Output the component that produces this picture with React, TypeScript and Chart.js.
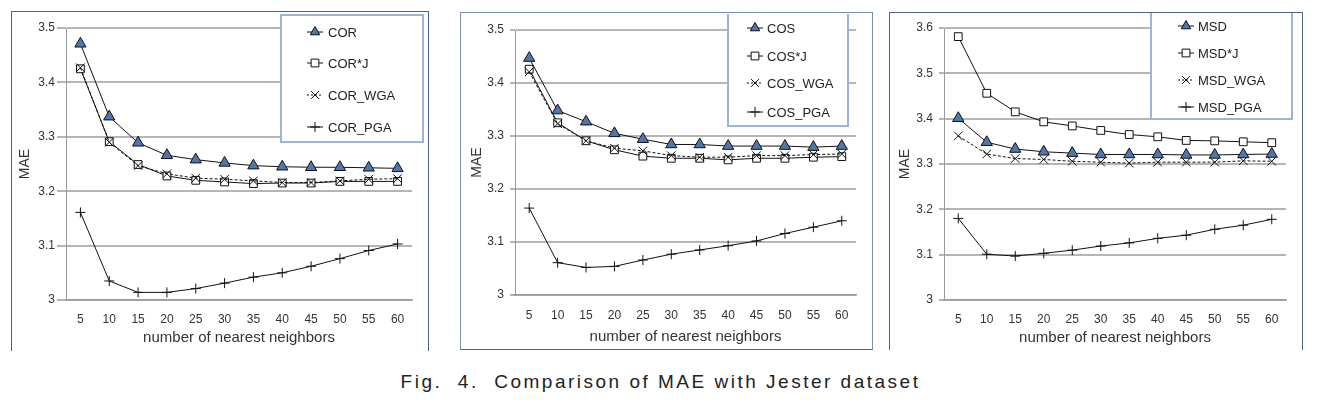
import React, { useEffect, useRef } from 'react';
import { Chart, registerables } from 'chart.js';

Chart.register(...registerables);

// ---------------- data ----------------
const neighborLabels = ['5', '10', '15', '20', '25', '30', '35', '40', '45', '50', '55', '60'];

const corNames = ['COR', 'COR*J', 'COR_WGA', 'COR_PGA'];
const corValues = [3.471, 3.337, 3.289, 3.266, 3.258, 3.252, 3.247, 3.245, 3.244, 3.244, 3.243, 3.242];
const corJValues = [3.425, 3.291, 3.249, 3.228, 3.22, 3.217, 3.214, 3.215, 3.215, 3.218, 3.218, 3.218];
const corWgaValues = [3.427, 3.29, 3.247, 3.232, 3.224, 3.222, 3.219, 3.216, 3.216, 3.219, 3.222, 3.223];
const corPgaValues = [3.161, 3.035, 3.014, 3.014, 3.021, 3.031, 3.042, 3.05, 3.062, 3.076, 3.091, 3.103];

const cosNames = ['COS', 'COS*J', 'COS_WGA', 'COS_PGA'];
const cosValues = [3.447, 3.348, 3.327, 3.305, 3.294, 3.284, 3.284, 3.281, 3.281, 3.281, 3.279, 3.281];
const cosJValues = [3.426, 3.325, 3.291, 3.274, 3.262, 3.258, 3.258, 3.255, 3.258, 3.258, 3.26, 3.261];
const cosWgaValues = [3.421, 3.323, 3.291, 3.277, 3.272, 3.263, 3.26, 3.26, 3.263, 3.263, 3.265, 3.266];
const cosPgaValues = [3.164, 3.061, 3.052, 3.054, 3.066, 3.077, 3.085, 3.093, 3.102, 3.116, 3.128, 3.14];

const msdNames = ['MSD', 'MSD*J', 'MSD_WGA', 'MSD_PGA'];
const msdValues = [3.401, 3.348, 3.333, 3.327, 3.324, 3.321, 3.321, 3.321, 3.32, 3.32, 3.321, 3.322];
const msdJValues = [3.581, 3.456, 3.415, 3.393, 3.384, 3.374, 3.365, 3.36, 3.352, 3.351, 3.349, 3.347];
const msdWgaValues = [3.362, 3.322, 3.312, 3.31, 3.306, 3.304, 3.302, 3.304, 3.304, 3.304, 3.307, 3.306];
const msdPgaValues = [3.18, 3.101, 3.097, 3.103, 3.11, 3.119, 3.126, 3.136, 3.143, 3.156, 3.165, 3.178];

const yMin = 3;
const yMaxCor = 3.5;
const yMaxCos = 3.5;
const yMaxMsd = 3.6;
const yStep = 0.1;

const xTitle = 'number of nearest neighbors';
const yTitle = 'MAE';
const caption = 'Fig.  4.  Comparison of MAE with Jester dataset';

// ---------------- styles ----------------
const FONT = '"Liberation Sans", Arial, sans-serif';
const TRI_FILL = '#4f77ad';
const kinds = ['triangle', 'rect', 'crossRot', 'cross'];

function drawMarker(ctx: CanvasRenderingContext2D, kind: string, x: number, y: number, r: number) {
  ctx.save();
  ctx.lineWidth = 1;
  ctx.strokeStyle = '#111';
  ctx.setLineDash([]);
  ctx.beginPath();
  if (kind === 'triangle') {
    const h = r * 1.5;
    const w = r * Math.sqrt(3);
    ctx.moveTo(x, y - r);
    ctx.lineTo(x + w / 2, y - r + h);
    ctx.lineTo(x - w / 2, y - r + h);
    ctx.closePath();
    ctx.fillStyle = TRI_FILL;
    ctx.fill();
    ctx.stroke();
  } else if (kind === 'rect') {
    const s = r * Math.SQRT1_2;
    ctx.rect(x - s, y - s, 2 * s, 2 * s);
    ctx.fillStyle = '#fff';
    ctx.fill();
    ctx.stroke();
  } else if (kind === 'crossRot') {
    const s = r * Math.SQRT1_2;
    ctx.moveTo(x - s, y - s);
    ctx.lineTo(x + s, y + s);
    ctx.moveTo(x - s, y + s);
    ctx.lineTo(x + s, y - s);
    ctx.stroke();
  } else {
    ctx.moveTo(x - r, y);
    ctx.lineTo(x + r, y);
    ctx.moveTo(x, y - r);
    ctx.lineTo(x, y + r);
    ctx.stroke();
  }
  ctx.restore();
}

type Box = { x: number; y: number; w: number; h: number };
type PanelCfg = {
  names: string[];
  series: number[][];
  yMax: number;
  canvas: Box;
  plot: { l: number; r: number; t: number; b: number };
  frame: { x: number; y: number; w: number; h: number; color: string; bottom: boolean; width: number };
  legend: { box: Box; rows: number[]; markerX: number; textX: number };
  yTickLen: number;
  yTickPad: number;
  yTitlePad: number;
  xTickPad: number;
  xTitlePad: number;
};

const panels: PanelCfg[] = [
  {
    names: corNames,
    series: [corValues, corJValues, corWgaValues, corPgaValues],
    yMax: yMaxCor,
    canvas: { x: 12, y: 12, w: 415, h: 340 },
    plot: { l: 66, r: 412, t: 28, b: 300 },
    frame: { x: 11, y: 11, w: 418, h: 340, color: '#4d6584', bottom: false, width: 1 },
    legend: { box: { x: 281, y: 15, w: 142, h: 127 }, rows: [32, 63, 95, 127], markerX: 315, textX: 328 },
    yTickLen: 9,
    yTickPad: 2,
    yTitlePad: 5,
    xTickPad: 12,
    xTitlePad: 5,
  },
  {
    names: cosNames,
    series: [cosValues, cosJValues, cosWgaValues, cosPgaValues],
    yMax: yMaxCos,
    canvas: { x: 462, y: 14, w: 409, h: 334 },
    plot: { l: 515, r: 856, t: 30, b: 295 },
    frame: { x: 460, y: 12, w: 413, h: 338, color: '#7b90b0', bottom: true, width: 1.5 },
    legend: { box: { x: 728, y: 12, w: 120, h: 114 }, rows: [28, 56, 83, 112], markerX: 755, textX: 767 },
    yTickLen: 5,
    yTickPad: 6,
    yTitlePad: 7,
    xTickPad: 13,
    xTitlePad: 2,
  },
  {
    names: msdNames,
    series: [msdValues, msdJValues, msdWgaValues, msdPgaValues],
    yMax: yMaxMsd,
    canvas: { x: 890, y: 13, w: 411, h: 339 },
    plot: { l: 944, r: 1286, t: 28, b: 300 },
    frame: { x: 889, y: 12, w: 414, h: 338, color: '#4d6584', bottom: false, width: 1 },
    legend: { box: { x: 1151, y: 12, w: 141, h: 107 }, rows: [26, 53, 80, 107], markerX: 1186, textX: 1198 },
    yTickLen: 5,
    yTickPad: 6,
    yTitlePad: 7,
    xTickPad: 12,
    xTitlePad: 5,
  },
];

function makeDatasets(cfg: PanelCfg) {
  return cfg.series.map((values, i) => {
    const kind = kinds[i];
    const r = kind === 'rect' ? 5.5 : kind === 'cross' ? 5 : kind === 'triangle' ? 6.5 : 6;
    return {
      label: cfg.names[i],
      data: values,
      borderColor: '#111',
      borderWidth: 1,
      borderDash: kind === 'crossRot' ? [3, 2] : [],
      tension: 0,
      fill: false,
      pointStyle: kind,
      pointRadius: r,
      pointHoverRadius: r,
      pointBorderWidth: 1,
      pointBorderColor: '#111',
      pointBackgroundColor: kind === 'triangle' ? TRI_FILL : '#fff',
      order: kind === 'triangle' ? 0 : kind === 'crossRot' ? 1 : kind === 'rect' ? 2 : 3,
    };
  });
}

function Panel({ cfg }: { cfg: PanelCfg }) {
  const ref = useRef<HTMLCanvasElement>(null);
  useEffect(() => {
    if (!ref.current) return;
    const c = cfg.canvas;
    const legendPlugin = {
      id: 'boxLegend',
      afterDraw(chart: any) {
        const ctx: CanvasRenderingContext2D = chart.ctx;
        const lg = cfg.legend;
        const bx = lg.box.x - c.x;
        const by = lg.box.y - c.y;
        ctx.save();
        ctx.fillStyle = '#fff';
        ctx.fillRect(bx, by, lg.box.w, lg.box.h);
        ctx.strokeStyle = '#9ab5d6';
        ctx.lineWidth = 2;
        ctx.strokeRect(bx, by, lg.box.w, lg.box.h);
        ctx.font = `13px ${FONT}`;
        ctx.textBaseline = 'middle';
        ctx.textAlign = 'left';
        cfg.names.forEach((name, i) => {
          const ry = lg.rows[i] - c.y;
          const mx = lg.markerX - c.x;
          ctx.save();
          ctx.strokeStyle = '#111';
          ctx.lineWidth = 1;
          ctx.setLineDash(kinds[i] === 'crossRot' ? [2, 2] : []);
          ctx.beginPath();
          ctx.moveTo(mx - 8, ry);
          ctx.lineTo(mx + 8, ry);
          ctx.stroke();
          ctx.restore();
          drawMarker(ctx, kinds[i], mx, ry, kinds[i] === 'cross' ? 5 : 5.5);
          ctx.fillStyle = '#222';
          ctx.fillText(name, lg.textX - c.x, ry + 1);
        });
        ctx.restore();
      },
    };
    const chart = new Chart(ref.current, {
      type: 'line',
      data: { labels: neighborLabels, datasets: makeDatasets(cfg) as any },
      options: {
        responsive: false,
        animation: false,
        events: [],
        layout: {
          padding: {
            left: 0,
            top: cfg.plot.t - c.y,
            right: c.x + c.w - cfg.plot.r,
            bottom: 0,
          },
        },
        plugins: { legend: { display: false }, tooltip: { enabled: false } },
        scales: {
          x: {
            type: 'category',
            offset: true,
            grid: { display: false, drawTicks: false },
            border: { display: true, color: '#9a9a9a', width: 1.5 },
            ticks: {
              color: '#333',
              font: { family: FONT, size: 12 },
              padding: cfg.xTickPad,
              maxRotation: 0,
              autoSkip: false,
            },
            title: {
              display: true,
              text: xTitle,
              color: '#333',
              font: { family: FONT, size: 15 },
              padding: { top: 0, bottom: cfg.xTitlePad },
            },
            afterFit: (s: any) => {
              s.height = c.y + c.h - cfg.plot.b;
            },
          },
          y: {
            type: 'linear',
            min: yMin,
            max: cfg.yMax,
            grid: { color: '#b5b5b5', lineWidth: 2, drawTicks: true, tickLength: cfg.yTickLen },
            border: { display: true, color: '#9a9a9a', width: 1 },
            ticks: {
              stepSize: yStep,
              color: '#333',
              font: { family: FONT, size: 12 },
              padding: cfg.yTickPad,
              callback: (v: any) => String(Math.round(Number(v) * 10) / 10),
            },
            title: {
              display: true,
              text: yTitle,
              color: '#333',
              font: { family: FONT, size: 14 },
              padding: { top: cfg.yTitlePad, bottom: 0 },
            },
            afterFit: (s: any) => {
              s.width = cfg.plot.l - c.x;
            },
          },
        },
      },
      plugins: [legendPlugin],
    });
    return () => chart.destroy();
  }, [cfg]);

  const f = cfg.frame;
  return (
    <>
      <div
        style={{
          position: 'absolute',
          left: f.x,
          top: f.y,
          width: f.w,
          height: f.h,
          boxSizing: 'border-box',
          borderTop: `${f.width}px solid ${f.color}`,
          borderLeft: `${f.width}px solid ${f.color}`,
          borderRight: `${f.width}px solid ${f.color}`,
          borderBottom: f.bottom ? `${f.width}px solid #52698a` : 'none',
        }}
      />
      <canvas
        ref={ref}
        width={cfg.canvas.w}
        height={cfg.canvas.h}
        style={{
          position: 'absolute',
          left: cfg.canvas.x,
          top: cfg.canvas.y,
          width: cfg.canvas.w,
          height: cfg.canvas.h,
        }}
      />
    </>
  );
}

export default function App() {
  return (
    <div style={{ position: 'absolute', left: 0, top: 0, width: 1321, height: 403, background: '#fff', overflow: 'hidden' }}>
      {panels.map((p, i) => (
        <Panel key={i} cfg={p} />
      ))}
      <div
        style={{
          position: 'absolute',
          left: 0,
          top: 370,
          width: 1321,
          textAlign: 'center',
          fontFamily: FONT,
          fontSize: 19,
          letterSpacing: '2.5px',
          color: '#222',
          whiteSpace: 'pre',
          lineHeight: '24px',
        }}
      >
        {caption}
      </div>
    </div>
  );
}
